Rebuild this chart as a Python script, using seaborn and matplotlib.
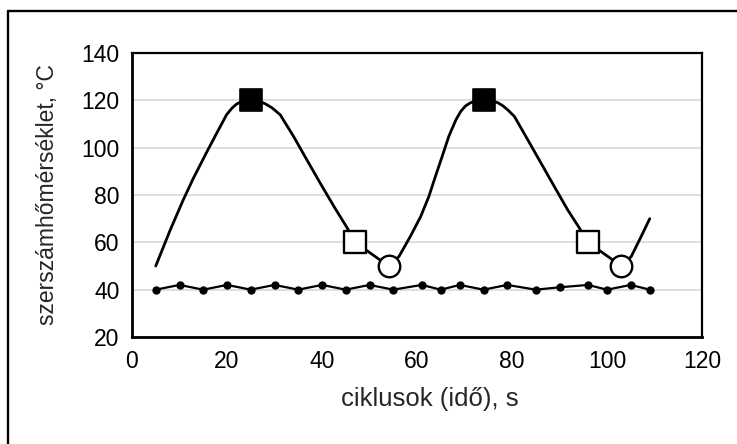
import seaborn as sns
import pandas as pd
import matplotlib
matplotlib.use("Agg")
import matplotlib.pyplot as plt
from matplotlib.lines import Line2D

# tool temperature curve
curve_x = [5, 8, 10.8, 12.9, 15.7, 17.8, 19.9, 21, 22, 23, 24, 25, 26, 27, 28, 29.5, 31.2, 34,
           36.8, 39.6, 42.5, 45.3, 47, 54, 56.2, 58.6, 60.8, 62.5, 63.9, 65.3, 66.7, 68.2,
           69.2, 70.2, 71.2, 72.2, 73.2, 74, 75, 76, 77, 78, 79.2, 80.5, 83.3, 86.1, 88.9,
           91.7, 94.2, 96, 103, 105.1, 107.2, 109]
curve_y = [50, 65, 78, 87, 98, 106, 113.9, 116.6, 118.4, 119.4, 119.9, 120, 119.9, 119.4,
           118.6, 116.8, 113.9, 104.8, 94.9, 85.1, 75.2, 66.1, 60, 50, 54, 62.5, 71, 79.4,
           88, 96.3, 104.8, 111.8, 115.3, 117.6, 118.9, 119.6, 119.9, 120, 119.9, 119.6,
           119, 117.8, 115.8, 113.2, 103.4, 93.5, 83.6, 73.8, 66, 60, 50, 54, 62.5, 70]

# marked points
peak_x = [25, 74]
peak_y = [120, 120]
open_sq_x = [47, 96]
open_sq_y = [60, 60]
circ_x = [54, 103]
circ_y = [50, 50]

# lower series
base_x = [5, 10, 15, 20, 25, 30, 35, 40, 45, 50, 55, 61, 65, 69, 74, 79, 85, 90, 96, 100, 105, 109]
base_y = [40, 42, 40, 42, 40, 42, 40, 42, 40, 42, 40, 42, 40, 42, 40, 42, 40, 41, 42, 40, 42, 40]

sns.set_style("white")
plt.rcParams['font.family'] = ['Liberation Sans', 'DejaVu Sans']

fig = plt.figure(figsize=(7.37, 4.44), dpi=100)
ax = fig.add_axes([132 / 737, 1 - 337 / 444, 570 / 737, 284 / 444])

df_curve = pd.DataFrame({"x": curve_x, "y": curve_y})
df_base = pd.DataFrame({"x": base_x, "y": base_y})

sns.lineplot(data=df_curve, x="x", y="y", sort=False, estimator=None, color="black",
             lw=2.0, ax=ax, zorder=3)
sns.lineplot(data=df_base, x="x", y="y", sort=False, estimator=None, color="black",
             lw=1.6, marker="o", markersize=6, markeredgewidth=0, ax=ax, zorder=3)
sns.scatterplot(x=peak_x, y=peak_y, marker="s", s=250, color="black", edgecolor="black",
                linewidth=1.2, ax=ax, zorder=4)
sns.scatterplot(x=open_sq_x, y=open_sq_y, marker="s", s=230, color="white", edgecolor="black",
                linewidth=1.7, ax=ax, zorder=4)
sns.scatterplot(x=circ_x, y=circ_y, marker="o", s=240, color="white", edgecolor="black",
                linewidth=1.7, ax=ax, zorder=4)

ax.set_xlim(0, 120)
ax.set_ylim(20, 140)
ax.set_xticks(range(0, 121, 20))
ax.set_yticks(range(20, 141, 20))
ax.yaxis.grid(True, color="#d4d4d4", lw=1.1)
ax.set_axisbelow(True)

for side in ["left", "bottom"]:
    ax.spines[side].set_linewidth(2.0)
for side in ["top", "right"]:
    ax.spines[side].set_linewidth(1.6)
for side in ax.spines:
    ax.spines[side].set_color("black")

ax.tick_params(axis="both", direction="out", length=5, width=1.6, colors="black",
               labelsize=16.5, pad=4)
ax.set_xlabel("ciklusok (idő), s", fontsize=18.5)
ax.set_ylabel("szerszámhőmérséklet, °C", fontsize=16.5)
ax.xaxis.set_label_coords(0.523, -0.218)
ax.yaxis.set_label_coords(-0.149, 0.5)
ax.xaxis.label.set_va("center")
ax.yaxis.label.set_va("center")

# outer chart frame (only left and top edges visible)
fig.add_artist(Line2D([8 / 737, 8 / 737], [0, 1 - 11 / 444], color="black", lw=1.7,
                      transform=fig.transFigure))
fig.add_artist(Line2D([8 / 737, 1], [1 - 11 / 444, 1 - 11 / 444], color="black", lw=1.7,
                      transform=fig.transFigure))

fig.savefig("out.png", dpi=100)
